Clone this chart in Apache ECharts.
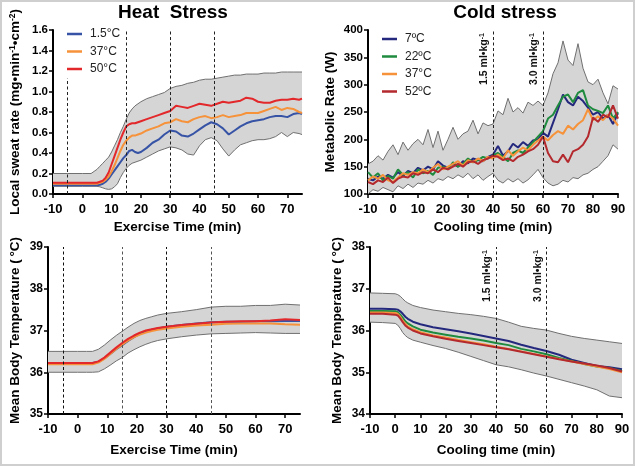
<!DOCTYPE html>
<html>
<head>
<meta charset="utf-8">
<script src="https://cdn.jsdelivr.net/npm/echarts@6/dist/echarts.min.js"></script>
<style>
html,body{margin:0;padding:0;background:#fff;}
#wrap{position:relative;width:635px;height:466px;}
#chart{width:635px;height:466px;}
#frame{position:absolute;left:0;top:0;width:635px;height:466px;box-sizing:border-box;border:2px solid #cfcfcf;pointer-events:none;}
</style>
</head>
<body>
<div id="wrap"><div id="chart"></div><div id="frame"></div></div>
<script>
// ---------- Heat stress: local sweat rate ----------
const heatTime = [-10,-5,0,3,5,6,7,8,9,10,11,12,13,14,15,16,17,18,19,20,22,24,26,28,30,32,34,36,38,40,42,44,46,48,50,52,54,56,58,60,62,64,66,68,70,72,74,75];
const sweat15 = [.085,.085,.085,.085,.085,.09,.10,.12,.15,.19,.23,.27,.31,.35,.38,.42,.43,.41,.40,.41,.45,.50,.53,.58,.62,.61,.57,.56,.59,.63,.67,.70,.68,.64,.58,.62,.66,.69,.71,.72,.73,.75,.76,.76,.75,.78,.79,.78];
const sweat37 = [.10,.10,.10,.10,.10,.11,.12,.14,.17,.22,.28,.35,.42,.48,.52,.55,.57,.57,.58,.59,.62,.64,.66,.69,.70,.73,.71,.70,.73,.75,.76,.74,.75,.77,.75,.76,.77,.79,.79,.79,.81,.83,.85,.82,.84,.83,.80,.79];
const sweat50 = [.11,.11,.11,.11,.11,.12,.13,.16,.21,.29,.37,.45,.53,.60,.66,.68,.69,.69,.70,.71,.73,.75,.77,.79,.81,.86,.85,.84,.86,.88,.87,.86,.88,.90,.89,.90,.91,.94,.93,.90,.89,.89,.91,.92,.92,.93,.92,.93];
const sweatUpper = [.20,.20,.20,.20,.24,.27,.30,.33,.36,.41,.47,.53,.60,.66,.73,.79,.83,.86,.88,.90,.93,.95,.97,.99,1.03,1.05,1.06,1.08,1.09,1.11,1.12,1.12,1.13,1.14,1.15,1.16,1.16,1.17,1.17,1.17,1.18,1.18,1.18,1.19,1.19,1.19,1.19,1.19];
const sweatLower = [.075,.075,.075,.075,.075,.07,.06,.05,.045,.05,.07,.10,.16,.21,.25,.28,.30,.31,.32,.33,.36,.39,.42,.44,.46,.45,.43,.39,.38,.47,.53,.55,.52,.44,.37,.43,.48,.50,.52,.53,.53,.54,.56,.60,.56,.60,.59,.58];

// ---------- Cold stress: metabolic rate ----------
const coldTime = [-10,-8,-6,-4,-2,0,2,4,6,8,10,12,14,16,18,20,22,24,26,28,30,32,34,36,38,40,42,44,46,48,50,52,54,56,58,60,62,64,66,68,70,72,74,76,78,80,82,84,86,88,90];
const met7  = [128,125,132,128,135,130,140,133,142,138,148,143,150,145,160,152,148,155,150,160,156,165,162,160,168,172,188,170,178,192,185,195,188,198,200,212,205,230,255,282,268,262,278,270,258,245,250,238,245,228,248];
const met22 = [140,130,138,125,133,128,145,135,140,130,145,138,142,135,148,150,145,158,150,155,165,158,162,168,165,170,175,168,160,175,180,175,185,195,205,215,238,245,262,278,282,268,285,290,262,255,252,248,262,238,250];
const met37 = [125,132,128,135,125,122,130,138,135,140,138,145,140,148,155,145,150,155,160,152,162,158,165,160,168,165,172,165,180,170,178,185,180,190,198,205,198,208,215,210,225,218,228,235,255,235,242,235,245,238,225];
const met52 = [122,118,125,122,130,120,128,132,130,138,135,140,138,145,140,148,145,150,155,150,158,160,155,162,165,170,168,162,165,160,168,172,178,182,190,205,175,160,158,172,158,178,182,190,205,240,232,245,240,262,238];
const metUpper = [155,160,170,162,178,190,172,195,180,192,200,190,218,185,215,180,200,222,200,210,215,235,210,230,225,228,252,245,275,250,258,248,268,262,270,262,285,320,340,380,345,335,375,330,305,300,310,285,265,298,292];
const metLower = [100,108,105,112,108,104,115,110,118,112,120,118,125,120,128,125,132,128,135,130,138,128,135,125,132,138,125,120,128,122,128,120,126,135,145,130,120,115,118,125,122,130,128,135,138,145,150,160,170,190,182];

// ---------- Heat stress: mean body temperature ----------
const heatTempTime = [-10,-5,0,3,5,7,9,11,13,15,17,19,21,23,25,27,30,35,40,45,50,55,60,65,70,75];
const hbt15 = [36.22,36.22,36.22,36.22,36.22,36.25,36.33,36.44,36.55,36.65,36.75,36.84,36.92,36.98,37.02,37.05,37.09,37.13,37.17,37.2,37.21,37.21,37.22,37.22,37.23,37.23];
const hbt37 = [36.19,36.19,36.19,36.19,36.19,36.23,36.32,36.44,36.56,36.66,36.76,36.84,36.9,36.95,36.99,37.02,37.05,37.09,37.12,37.14,37.16,37.17,37.17,37.17,37.15,37.14];
const hbt50 = [36.22,36.22,36.22,36.22,36.22,36.26,36.35,36.47,36.59,36.7,36.8,36.88,36.95,37.0,37.03,37.06,37.09,37.13,37.16,37.19,37.21,37.22,37.22,37.24,37.27,37.25];
const hbtUpper = [36.5,36.5,36.5,36.5,36.5,36.55,36.65,36.77,36.88,36.98,37.08,37.17,37.24,37.29,37.33,37.37,37.41,37.45,37.5,37.56,37.58,37.58,37.6,37.6,37.63,37.61];
const hbtLower = [36.0,36.0,36.0,36.0,36.0,36.01,36.08,36.17,36.27,36.35,36.46,36.54,36.61,36.67,36.72,36.76,36.8,36.85,36.89,36.92,36.93,36.94,36.95,36.94,36.93,36.93];

// ---------- Cold stress: mean body temperature ----------
const coldTempTime = [-10,-5,0,1,2,3,4,5,7,10,15,20,25,30,35,40,45,50,55,60,65,70,75,80,85,90];
const cbt7  = [36.52,36.52,36.51,36.5,36.46,36.4,36.33,36.28,36.21,36.15,36.08,36.03,35.98,35.93,35.87,35.81,35.75,35.66,35.58,35.51,35.42,35.3,35.22,35.15,35.12,35.07];
const cbt22 = [36.47,36.47,36.46,36.44,36.38,36.3,36.22,36.17,36.1,36.02,35.95,35.9,35.85,35.81,35.76,35.7,35.65,35.56,35.5,35.43,35.34,35.27,35.2,35.14,35.1,35.03];
const cbt37 = [36.43,36.43,36.42,36.4,36.33,36.24,36.16,36.1,36.03,35.96,35.88,35.83,35.77,35.72,35.67,35.61,35.56,35.5,35.44,35.38,35.32,35.26,35.2,35.14,35.08,35.0];
const cbt52 = [36.4,36.4,36.38,36.36,36.29,36.2,36.12,36.07,36.0,35.93,35.86,35.8,35.75,35.7,35.65,35.6,35.55,35.49,35.43,35.37,35.31,35.26,35.21,35.16,35.1,35.02];
const cbtUpper = [36.9,36.89,36.88,36.86,36.82,36.76,36.7,36.66,36.6,36.55,36.49,36.45,36.41,36.38,36.34,36.29,36.2,36.1,36.05,36.01,35.93,35.86,35.81,35.77,35.73,35.69];
const cbtLower = [36.2,36.19,36.17,36.13,36.05,35.95,35.88,35.83,35.77,35.72,35.64,35.57,35.48,35.38,35.28,35.18,35.13,35.06,34.98,34.91,34.83,34.75,34.67,34.58,34.43,34.39];

// ---------- labels ----------
const heatNames = ['1.5°C','37°C','50°C'];
const coldNames = ['7ºC','22ºC','37°C','52ºC'];
const heatMarks = [-5,15,30,45];
const coldMarks = [40,60];
const coldMarkLabels = ['1.5 ml•kg{s|-1}','3.0 ml•kg{s|-1}'];

const C = {blue:'#3653a5', orange:'#f6923a', red:'#e3282b', navy:'#25297e', green:'#1f8b3f', dred:'#b3292d'};
const heatColors = [C.blue, C.orange, C.red];
const coldColors = [C.navy, C.green, C.orange, C.dred];
const FONT = '"Liberation Sans", Arial, Helvetica, sans-serif';

const pairs = (t, v) => t.map((x, i) => [x, v[i]]);

function bandSeries(g, t, lo, up, marks) {
  const fill = {
    type:'custom', xAxisIndex:g, yAxisIndex:g, silent:true, clip:true, z:1,
    data: t.map((x, i) => [x, lo[i], up[i]]),
    encode:{x:0, y:[1,2]},
    renderItem: (params, api) => {
      if (params.dataIndex !== 0) return null;
      const pts = [];
      for (let i = 0; i < t.length; i++) pts.push(api.coord([t[i], up[i]]));
      for (let i = t.length - 1; i >= 0; i--) pts.push(api.coord([t[i], lo[i]]));
      return {type:'polygon', shape:{points:pts}, style:{fill:'#d5d5d5', stroke:null}};
    }
  };
  const edge = v => ({type:'line', xAxisIndex:g, yAxisIndex:g, symbol:'none', silent:true,
    data: pairs(t, v), lineStyle:{color:'#707070', width:1}, z:2});
  const lower = edge(lo), upper = edge(up);
  if (marks) upper.markLine = marks;
  return [fill, lower, upper];
}
function lineSeries(name, g, t, v, color) {
  return {type:'line', name, xAxisIndex:g, yAxisIndex:g, symbol:'none', data:pairs(t, v),
    lineStyle:{color, width:2}, itemStyle:{color}, z:3};
}
function dashLine(data) {
  return {silent:true, symbol:['none','none'],
    lineStyle:{type:[3,2.5], color:'#222', width:1}, label:{show:false}, data};
}
const coldML = () => ({silent:true, symbol:['none','none'],
  lineStyle:{type:[3,2.5], color:'#222', width:1},
  label:{show:true, position:'insideEndTop', distance:[3,3], fontFamily:FONT, fontWeight:'bold', fontSize:10.5, color:'#111',
    formatter: p => coldMarkLabels[coldMarks.indexOf(p.value)],
    rich:{s:{fontFamily:FONT, fontWeight:'bold', fontSize:7, color:'#111', verticalAlign:'top'}}},
  data: coldMarks.map(x => ({xAxis:x}))
});

const xAx = (g, min, max, name, showMax) => ({
  type:'value', gridIndex:g, min, max, interval:10,
  name, nameLocation:'middle', nameGap: g < 2 ? 26 : 29,
  nameTextStyle:{fontFamily:FONT, fontWeight:'bold', fontSize:13.5, color:'#000'},
  axisLine:{onZero:false, lineStyle:{color:'#000', width:2}},
  axisTick:{show:true, length:4, lineStyle:{color:'#000', width:1.5}},
  axisLabel:{fontFamily:FONT, fontWeight:'bold', fontSize:13, color:'#000', margin:9, showMaxLabel:showMax},
  splitLine:{show:false}
});
const yAx = (g, min, max, interval, name, gap, dec, fs) => ({
  type:'value', gridIndex:g, min, max, interval,
  name, nameLocation:'middle', nameGap:gap,
  nameTextStyle:{fontFamily:FONT, fontWeight:'bold', fontSize:13.5, color:'#000',
    rich:{s:{fontFamily:FONT, fontWeight:'bold', fontSize:8.5, color:'#000', verticalAlign:'top'}}},
  axisLine:{onZero:false, lineStyle:{color:'#000', width:2}},
  axisTick:{show:true, length:4, lineStyle:{color:'#000', width:1.5}},
  axisLabel:{fontFamily:FONT, fontWeight:'bold', fontSize:fs, color:'#000', margin:5,
    formatter: v => v.toFixed(dec)},
  splitLine:{show:false}
});

const series = [];
// grid 0 : sweat rate
series.push(...bandSeries(0, heatTime, sweatLower, sweatUpper, dashLine([
  [{coord:[heatMarks[0], 0]}, {coord:[heatMarks[0], 1.13]}],
  {xAxis:heatMarks[1]}, {xAxis:heatMarks[2]}, {xAxis:heatMarks[3]}
])));
[sweat15, sweat37, sweat50].forEach((v, i) => series.push(lineSeries(heatNames[i], 0, heatTime, v, heatColors[i])));
// grid 1 : metabolic rate
series.push(...bandSeries(1, coldTime, metLower, metUpper, coldML()));
[met7, met22, met37, met52].forEach((v, i) => series.push(lineSeries(coldNames[i], 1, coldTime, v, coldColors[i])));
// grid 2 : heat body temp
series.push(...bandSeries(2, heatTempTime, hbtLower, hbtUpper, dashLine([
  {xAxis:heatMarks[0], lineStyle:{color:'#111'}}, {xAxis:heatMarks[1], lineStyle:{color:'#555'}},
  {xAxis:heatMarks[2], lineStyle:{color:'#111'}}, {xAxis:heatMarks[3], lineStyle:{color:'#555'}}
])));
[hbt15, hbt37, hbt50].forEach((v, i) => series.push(lineSeries(heatNames[i], 2, heatTempTime, v, heatColors[i])));
// grid 3 : cold body temp
series.push(...bandSeries(3, coldTempTime, cbtLower, cbtUpper, coldML()));
[cbt7, cbt22, cbt37, cbt52].forEach((v, i) => series.push(lineSeries(coldNames[i], 3, coldTempTime, v, coldColors[i])));

const legendBase = {orient:'vertical', icon:'rect', itemWidth:15, itemHeight:2.5, itemGap:3.5,
  padding:0, selectedMode:false,
  textStyle:{fontFamily:FONT, fontSize:12, color:'#222', lineHeight:14, padding:[0,0,0,3]}};

const option = {
  animation:false,
  backgroundColor:'#fff',
  title:[
    {text:'Heat  Stress', left:173, top:3, textAlign:'center', padding:0,
      textStyle:{fontFamily:FONT, fontWeight:'bold', fontSize:19, color:'#000'}},
    {text:'Cold stress', left:505, top:3, textAlign:'center', padding:0,
      textStyle:{fontFamily:FONT, fontWeight:'bold', fontSize:19, color:'#000'}}
  ],
  legend:[
    Object.assign({}, legendBase, {left:67, top:27, data:heatNames}),
    Object.assign({}, legendBase, {left:382, top:32, data:coldNames})
  ],
  grid:[
    {left:53, top:30, width:249, height:164},
    {left:368, top:30, width:250, height:164},
    {left:48, top:247, width:252, height:167},
    {left:370, top:247, width:252, height:167}
  ],
  xAxis:[
    xAx(0, -10, 75, 'Exercise Time (min)', false),
    xAx(1, -10, 90, 'Cooling time (min)', true),
    xAx(2, -10, 75, 'Exercise Time (min)', false),
    xAx(3, -10, 90, 'Cooling time (min)', true)
  ],
  yAxis:[
    yAx(0, 0, 1.6, 0.2, 'Local sweat rate (mg•min{s|-1}•cm{s|-2})', 31, 1, 11.5),
    yAx(1, 100, 400, 50, 'Metabolic Rate (W)', 31, 0, 11.5),
    yAx(2, 35, 39, 1, 'Mean Body Temperature (\u2009°C)', 26, 0, 12),
    yAx(3, 34, 38, 1, 'Mean Body Temperature (\u2009°C)', 26, 0, 12)
  ],
  series
};

const chart = echarts.init(document.getElementById('chart'), null, {renderer:'canvas'});
chart.setOption(option);
</script>
</body>
</html>
